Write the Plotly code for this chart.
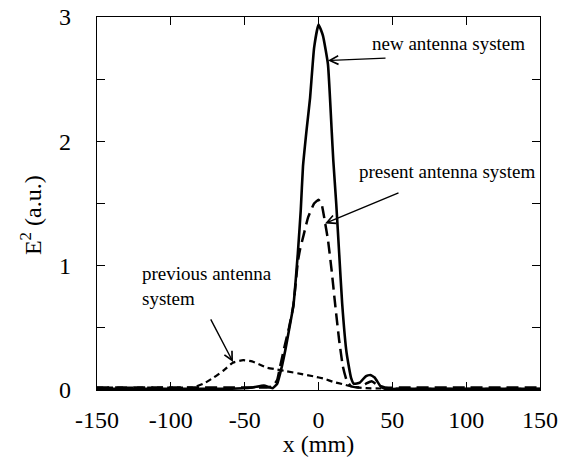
import plotly.graph_objects as go

# new antenna system (solid)
new_x = [-150, -100, -60, -45, -37, -31, -28, -25, -22.5, -20, -17, -14, -12, -10.5, -8, -5.7, -3, 0, 3, 6.4, 9, 10, 12, 14, 16, 19, 22, 24, 28, 32, 35, 38, 42, 45, 60, 100, 150]
new_y = [0.01, 0.01, 0.01, 0.02, 0.035, 0.015, 0.05, 0.18, 0.32, 0.48, 0.68, 1.1, 1.45, 1.8, 2.1, 2.35, 2.75, 2.94, 2.85, 2.62, 2.07, 1.85, 1.5, 1.1, 0.7, 0.3, 0.1, 0.05, 0.06, 0.11, 0.12, 0.1, 0.03, 0.01, 0.01, 0.01, 0.01]

# present antenna system (long dashes)
pres_x = [-150, -100, -60, -45, -35, -31, -28, -26, -23, -20, -17, -14, -12.5, -10, -7, -3, 0, 2, 4.4, 6.5, 9, 11, 14, 16.5, 19, 22, 27, 32, 36, 40, 45, 60, 100, 150]
pres_y = [0.02, 0.02, 0.02, 0.02, 0.02, 0.03, 0.08, 0.19, 0.35, 0.5, 0.68, 1.03, 1.13, 1.25, 1.39, 1.5, 1.53, 1.5, 1.35, 1.2, 0.95, 0.72, 0.4, 0.19, 0.08, 0.03, 0.02, 0.05, 0.07, 0.04, 0.02, 0.02, 0.02, 0.02]

# previous antenna system (short dashes)
prev_x = [-150, -100, -85, -78, -71, -64, -58, -51, -45, -35, -28, -21.5, -12, -3.5, 4, 10, 17, 23.5, 32, 42, 60, 100, 150]
prev_y = [0.02, 0.02, 0.02, 0.05, 0.1, 0.16, 0.22, 0.24, 0.23, 0.18, 0.165, 0.15, 0.13, 0.11, 0.09, 0.065, 0.045, 0.025, 0.015, 0.012, 0.01, 0.01, 0.01]

x_ticks = [-150, -100, -50, 0, 50, 100, 150]
x_tick_text = ["-150", "-100", "-50", "0", "50", "100", "150"]
y_ticks = [0, 0.5, 1, 1.5, 2, 2.5, 3]
y_tick_text = ["0", "", "1", "", "2", "", "3"]

FONT = "Liberation Serif, Times New Roman, serif"

fig = go.Figure()
fig.add_trace(go.Scatter(x=prev_x, y=prev_y, mode="lines",
                         line=dict(color="black", width=2.2, dash="6px,4px", shape="spline", smoothing=0.4)))
fig.add_trace(go.Scatter(x=pres_x, y=pres_y, mode="lines",
                         line=dict(color="black", width=2.5, dash="12px,6px", shape="spline", smoothing=0.4)))
fig.add_trace(go.Scatter(x=new_x, y=new_y, mode="lines",
                         line=dict(color="black", width=2.6, shape="spline", smoothing=0.4)))

arrow_common = dict(xref="x", yref="y", axref="x", ayref="y", text="", showarrow=True,
                    arrowhead=5, arrowsize=1.2, arrowwidth=1.4, arrowcolor="black")
fig.add_annotation(x=6.4, y=2.65, ax=46.4, ay=2.67, **arrow_common)
fig.add_annotation(x=4.4, y=1.34, ax=55.2, ay=1.59, **arrow_common)
fig.add_annotation(x=-57.9, y=0.225, ax=-73.5, ay=0.58, **arrow_common)

txt_common = dict(xref="x", yref="y", showarrow=False, font=dict(family=FONT, size=19, color="black"))
fig.add_annotation(x=87.7, y=2.79, text="new antenna system", **txt_common)
fig.add_annotation(x=87, y=1.76, text="present antenna system", **txt_common)
fig.add_annotation(x=-121, y=0.84, text="previous antenna<br>system", align="left", xanchor="left", **txt_common)

# y-axis title placed as rotated text
fig.add_annotation(xref="paper", yref="paper", x=-0.149, y=0.469, text="E<sup>2</sup> (a.u.)",
                   textangle=-90, showarrow=False, xanchor="center", yanchor="middle",
                   font=dict(family=FONT, size=24, color="black"))

axis_common = dict(showline=True, linecolor="black", linewidth=1.2, mirror="allticks",
                   ticks="inside", ticklen=8, tickwidth=1.2, tickcolor="black",
                   showgrid=False, zeroline=False, automargin=False, ticklabeloverflow="allow",
                   tickfont=dict(family=FONT, size=24, color="black"))
fig.update_xaxes(range=[-150, 150], tickvals=x_ticks, ticktext=x_tick_text, ticklabelstandoff=8,
                 title=dict(text="x (mm)", font=dict(family=FONT, size=24, color="black"), standoff=0),
                 **axis_common)
fig.update_yaxes(range=[0, 3], tickvals=y_ticks, ticktext=y_tick_text, ticklabelstandoff=20,
                 **axis_common)

# page body has an 8px margin, so the figure is sized to fit inside the window
fig.update_layout(width=560, height=449, margin=dict(l=89, r=28, t=9, b=67),
                  paper_bgcolor="white", plot_bgcolor="white", showlegend=False)

fig.write_html("out.html")
